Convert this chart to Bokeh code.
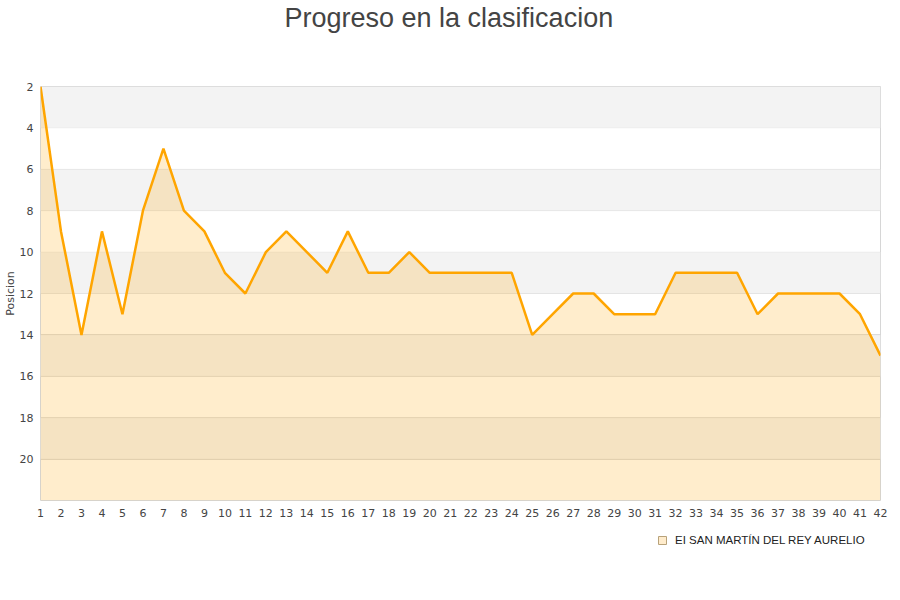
from bokeh.plotting import figure
from bokeh.layouts import column
from bokeh.models import ColumnDataSource, FixedTicker, Range1d, Legend, LegendItem, Title, BoxAnnotation
from bokeh.embed import file_html
from bokeh.resources import INLINE

jornadas = list(range(1, 43))
posiciones = [2, 9, 14, 9, 13, 8, 5, 8, 9, 11, 12, 10, 9, 10, 11, 9, 11, 11, 10, 11,
              11, 11, 11, 11, 14, 13, 12, 12, 13, 13, 13, 11, 11, 11, 11, 13, 12, 12, 12, 12,
              13, 15]
y_ticks = [2, 4, 6, 8, 10, 12, 14, 16, 18, 20]
team = "EI SAN MARTÍN DEL REY AURELIO"
title = "Progreso en la clasificacion"
y_label = "Posicion"

src = ColumnDataSource(dict(x=jornadas, y=posiciones, base=[22] * len(jornadas)))

p = figure(width=None, height=None, title=None, output_backend="svg", toolbar_location=None,
           x_range=Range1d(1, 42), y_range=Range1d(22, 2),
           min_border_left=40, min_border_right=20, min_border_top=86, min_border_bottom=28)
p.frame_width = 840
p.frame_height = 414

# spacer (closest to frame), then the main title above it
p.add_layout(Title(text=" ", text_font_size="10px", standoff=41), "above")
p.add_layout(Title(text=title, align="left", offset=244, standoff=0, text_font="Liberation Sans",
                   text_font_size="27px", text_font_style="normal", text_color="#444444"), "above")

p.outline_line_color = "#d6d6d6"
p.background_fill_color = "white"
p.border_fill_color = "white"

step = y_ticks[1] - y_ticks[0]
for t in y_ticks[::2]:
    p.add_layout(BoxAnnotation(top=t, bottom=t + step, fill_color="#f3f3f3", fill_alpha=1.0,
                               line_color="#dcdcdc", line_width=1, level="underlay"))

p.xgrid.grid_line_color = None
p.ygrid.ticker = FixedTicker(ticks=y_ticks)
p.ygrid.grid_line_color = "#dcdcdc"

p.xaxis.ticker = FixedTicker(ticks=jornadas)
p.yaxis.ticker = FixedTicker(ticks=y_ticks)
for ax in (p.xaxis, p.yaxis):
    ax.axis_line_color = None
    ax.major_tick_line_color = None
    ax.minor_tick_line_color = None
    ax.major_tick_out = 0
    ax.major_tick_in = 0
    ax.minor_tick_out = 0
    ax.major_label_text_font = "DejaVu Sans"
    ax.major_label_text_font_size = "11px"
    ax.major_label_text_color = "#444444"
p.xaxis.major_label_standoff = 8
p.yaxis.major_label_standoff = 7
p.yaxis.axis_label = y_label
p.yaxis.axis_label_text_font = "DejaVu Sans"
p.yaxis.axis_label_text_font_size = "11px"
p.yaxis.axis_label_text_font_style = "normal"
p.yaxis.axis_label_text_color = "#444444"
p.yaxis.axis_label_standoff = 0

p.varea(x="x", y1="y", y2="base", source=src, fill_color="#ffa500", fill_alpha=0.2)
p.line(x="x", y="y", source=src, line_color="#ffa500", line_width=2.5)

# legend strip below the chart (its frame lines up with the chart frame)
lf = figure(width=900, height=40, output_backend="svg", toolbar_location=None,
            x_axis_type=None, y_axis_type=None, min_border=0,
            x_range=Range1d(0, 1), y_range=Range1d(0, 1))
lf.outline_line_color = None
lf.xgrid.visible = False
lf.ygrid.visible = False
# legend-only swatch renderer, kept outside the strip's visible range
dummy = lf.quad(left=[-3], right=[-2], top=[-2], bottom=[-3],
                fill_color="#ffeccc", line_color="#b8a27a")
legend = Legend(items=[LegendItem(label=team, renderers=[dummy])], location=(617, 22),
                orientation="horizontal", border_line_color=None, background_fill_alpha=0,
                label_text_font="Liberation Sans", label_text_font_size="11.5px",
                label_text_color="#222222", glyph_width=10, glyph_height=10,
                label_height=10, margin=0, padding=4, spacing=0, label_standoff=8)
lf.add_layout(legend, "center")

layout = column(p, lf, spacing=0)
open("out.html", "w").write(file_html(layout, INLINE))
